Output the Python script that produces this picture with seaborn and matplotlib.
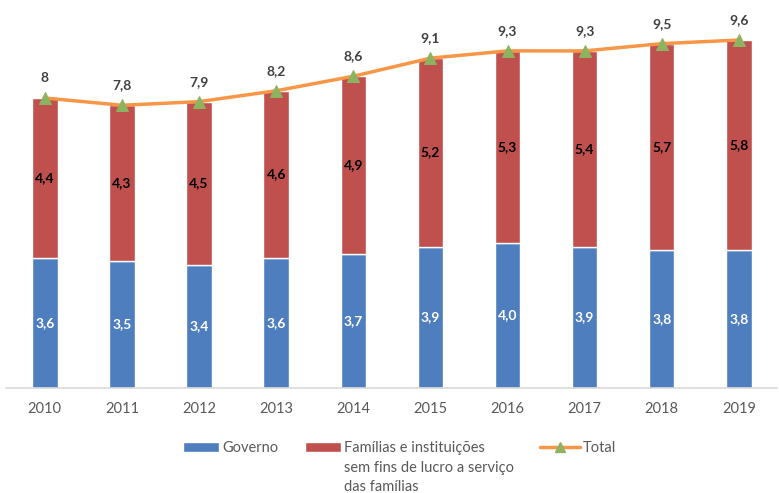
import numpy as np
import pandas as pd
import matplotlib
matplotlib.use("Agg")
import matplotlib.pyplot as plt
import seaborn as sns
from matplotlib.lines import Line2D
from matplotlib.patches import Patch

anos = ["2010", "2011", "2012", "2013", "2014", "2015", "2016", "2017", "2018", "2019"]
governo = [3.6, 3.5, 3.4, 3.6, 3.7, 3.9, 4.0, 3.9, 3.8, 3.8]
familias = [4.4, 4.3, 4.5, 4.6, 4.9, 5.2, 5.3, 5.4, 5.7, 5.8]
total = [8.0, 7.8, 7.9, 8.2, 8.6, 9.1, 9.3, 9.3, 9.5, 9.6]

def fmt(v):
    return f"{v:.1f}".replace(".", ",")

sns.set_theme(style="white")
plt.rcParams["font.family"] = ["Lato", "DejaVu Sans"]

df = pd.DataFrame({"ano": anos, "governo": governo, "familias": familias, "total": total})

W, H = 779, 493
fig = plt.figure(figsize=(W / 100, H / 100), dpi=100)
ax = fig.add_axes([0.008, 0.213, 0.99, 0.772])

blue = "#4F7EBE"
red = "#C0504D"
orange = "#F79646"
green = "#8DB361"
grey = "#595959"

sns.barplot(data=df, x="ano", y="governo", color=blue, width=0.33, saturation=1, ax=ax)
sns.barplot(data=df, x="ano", y="familias", bottom=df["governo"], color=red, width=0.33,
            saturation=1, ax=ax)
sns.lineplot(data=df, x="ano", y="total", color=orange, linewidth=2.5, marker="^",
             markersize=8, markerfacecolor=green, markeredgecolor=green, ax=ax, zorder=5)

for i in range(len(anos)):
    ax.text(i, governo[i] / 2, fmt(governo[i]), ha="center", va="center", color="white",
            fontsize=10, fontweight="bold")
    ax.text(i, governo[i] + familias[i] / 2, fmt(familias[i]), ha="center", va="center",
            color="black", fontsize=10, fontweight="bold")
    lab = "8" if total[i] == 8.0 else fmt(total[i])
    ax.text(i, total[i] + 0.55, lab, ha="center", va="center", color="#404040",
            fontsize=10, fontweight="bold")

ax.set_ylim(0, 10.5)
ax.set_xlim(-0.5, 9.5)
ax.set_xlabel("")
ax.set_ylabel("")
ax.set_yticks([])
for s in ["top", "right", "left"]:
    ax.spines[s].set_visible(False)
ax.spines["bottom"].set_color("#D9D9D9")
ax.spines["bottom"].set_linewidth(1.2)
ax.tick_params(axis="x", colors=grey, labelsize=10.5, length=0, pad=10)

# legend: one small legend per entry, placed where the reference has them
ly = 1 - 448 / H
entries = [
    (Patch(facecolor=blue), "Governo", 183, 2.5),
    (Patch(facecolor=red), "Famílias e instituições", 305, 2.5),
    (Line2D([0], [0], color=orange, linewidth=2.5, marker="^", markersize=7,
            markerfacecolor=green, markeredgecolor=green), "Total", 540, 2.75),
]
legs = []
for h, lab, px, hl in entries:
    lg = fig.legend([h], [lab], loc="center left", bbox_to_anchor=(px / W, ly),
                    frameon=False, fontsize=10.5, handlelength=hl, handleheight=0.7,
                    handletextpad=0.2, borderpad=0, borderaxespad=0)
    lg.get_texts()[0].set_color(grey)
    legs.append(lg)

fig.canvas.draw()
bb = legs[1].get_texts()[0].get_window_extent().transformed(fig.transFigure.inverted())
fig.text(bb.x0, bb.y0 - 0.012, "sem fins de lucro a serviço\ndas famílias", ha="left",
         va="top", fontsize=10.5, color=grey, linespacing=1.45)

fig.savefig("out.png", dpi=100)
